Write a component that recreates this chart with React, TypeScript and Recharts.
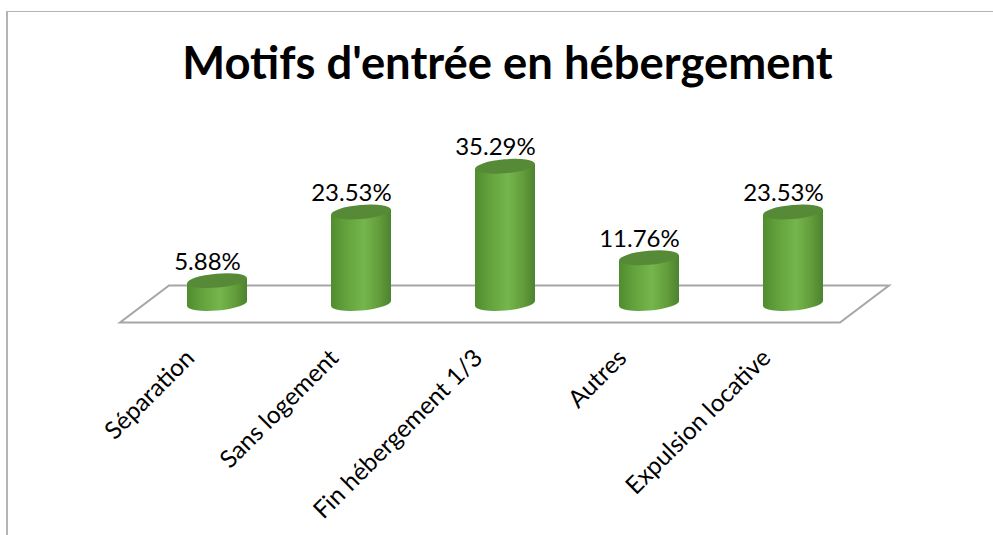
import { Bar, BarChart, Customized, LabelList, XAxis, YAxis } from "recharts"

const categories = ["Séparation", "Sans logement", "Fin hébergement 1/3", "Autres", "Expulsion locative"]
const values = [5.88, 23.53, 35.29, 11.76, 23.53]

const data = categories.map((name, i) => ({ name, value: values[i] }))

const FONT = "Lato, sans-serif"
const TILT = 5 // degrees the ellipses lean by
const RY = 7

function Cylinder({ x, y, width, height }: any) {
  const rx = width / 2
  const cx = x + rx
  const bottom = y + height
  const dy = rx * Math.sin((TILT * Math.PI) / 180)
  return (
    <g>
      <path
        d={`M${x} ${y + dy} L${x} ${bottom + dy} A${rx} ${RY} ${-TILT} 0 0 ${x + width} ${bottom - dy} L${x + width} ${y - dy} Z`}
        fill="url(#cylinderSide)"
      />
      <ellipse cx={cx} cy={y} rx={rx} ry={RY} fill="#568a36" transform={`rotate(${-TILT} ${cx} ${y})`} />
    </g>
  )
}

function ValueLabel({ x, y, width, value }: any) {
  return (
    <text x={x + width / 2 - 9.5} y={y - 11} textAnchor="middle" fontFamily={FONT} fontSize={24} fill="#000">
      {value.toFixed(2)}%
    </text>
  )
}

function CategoryTick({ x, y, payload }: any) {
  return (
    <text
      transform={`translate(${x - 21} ${y + 48}) rotate(-45)`}
      textAnchor="end"
      fontFamily={FONT}
      fontSize={24.4}
      fill="#000"
    >
      {payload.value}
    </text>
  )
}

function Floor() {
  return (
    <g>
      <defs>
        <linearGradient id="cylinderSide" x1="0" y1="0" x2="1" y2="0">
          <stop offset="0" stopColor="#4f8c2e" />
          <stop offset="0.2" stopColor="#609e3a" />
          <stop offset="0.55" stopColor="#76b64d" />
          <stop offset="0.8" stopColor="#629d3c" />
          <stop offset="1" stopColor="#4e822e" />
        </linearGradient>
      </defs>
      <polygon points="120,322.5 840,322.5 889,285.5 169,285.5" fill="none" stroke="#a6a6a6" strokeWidth={2} />
    </g>
  )
}

export default function App() {
  return (
    <div style={{ position: "absolute", left: 0, top: 0, width: 993, height: 535, overflow: "hidden", background: "#fff" }}>
      <div
        style={{
          position: "absolute",
          left: 6,
          top: 11,
          width: 987,
          height: 524,
          borderTop: "1px solid #b4b4b4",
          borderLeft: "2px solid #b4b4b4",
          boxSizing: "border-box",
        }}
      />
      <div
        style={{
          position: "absolute",
          left: 0,
          top: 36,
          width: 1015,
          textAlign: "center",
          fontFamily: FONT,
          fontWeight: 700,
          fontSize: 45.4,
          lineHeight: "52px",
          color: "#000",
        }}
      >
        Motifs d'entrée en hébergement
      </div>
      <div style={{ position: "absolute", left: 0, top: 0 }}>
        <BarChart
          width={993}
          height={535}
          data={data}
          margin={{ top: 148, right: 128, bottom: 31.5, left: 145 }}
          barSize={60}
        >
          <Customized component={Floor} />
          <XAxis
            dataKey="name"
            height={200}
            interval={0}
            axisLine={false}
            tickLine={false}
            tick={CategoryTick}
          />
          <YAxis hide domain={[0, 40]} />
          <Bar dataKey="value" shape={Cylinder} isAnimationActive={false}>
            <LabelList dataKey="value" content={ValueLabel} />
          </Bar>
        </BarChart>
      </div>
    </div>
  )
}
